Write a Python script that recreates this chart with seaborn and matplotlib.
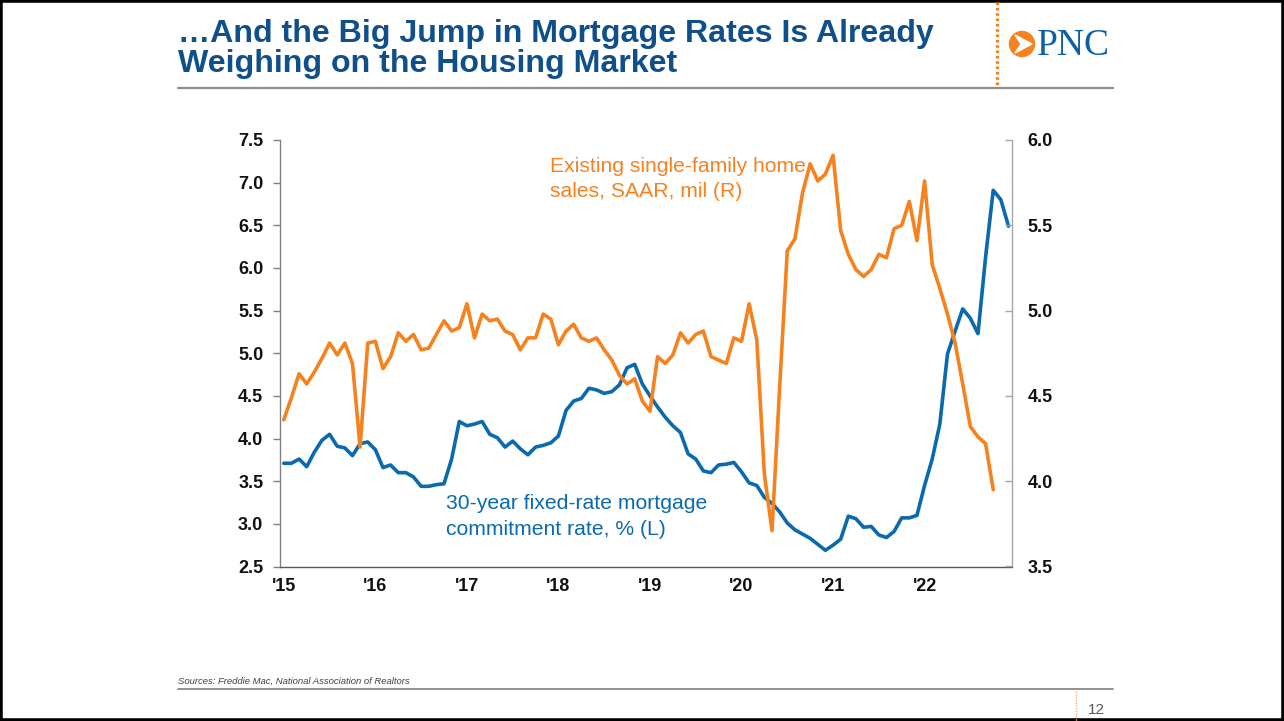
import numpy as np
import pandas as pd
import seaborn as sns
import matplotlib.pyplot as plt
from matplotlib.lines import Line2D
from matplotlib.patches import Circle, Polygon, Rectangle
from matplotlib.transforms import IdentityTransform

# 30-year fixed-rate mortgage commitment rate, %, monthly Jan 2015 - Dec 2022
mortgage_rate = [
    3.71, 3.71, 3.76, 3.67, 3.84, 3.98, 4.05, 3.91, 3.89, 3.80, 3.94, 3.96,
    3.87, 3.66, 3.69, 3.60, 3.60, 3.55, 3.44, 3.44, 3.46, 3.47, 3.76, 4.20,
    4.15, 4.17, 4.20, 4.05, 4.01, 3.90, 3.97, 3.88, 3.81, 3.90, 3.92, 3.95,
    4.03, 4.33, 4.44, 4.47, 4.59, 4.57, 4.53, 4.55, 4.63, 4.83, 4.87, 4.64,
    4.50, 4.37, 4.25, 4.15, 4.07, 3.82, 3.76, 3.62, 3.60, 3.69, 3.70, 3.72,
    3.61, 3.48, 3.45, 3.31, 3.24, 3.14, 3.01, 2.93, 2.88, 2.83, 2.76, 2.69,
    2.75, 2.82, 3.09, 3.06, 2.96, 2.97, 2.87, 2.84, 2.91, 3.07, 3.07, 3.10,
    3.45, 3.76, 4.17, 4.99, 5.26, 5.52, 5.41, 5.23, 6.13, 6.91, 6.80, 6.49,
]

# Existing single-family home sales, SAAR, mil, monthly Jan 2015 - Oct 2022
home_sales = [
    4.36, 4.49, 4.63, 4.57, 4.64, 4.72, 4.81, 4.74, 4.81, 4.69, 4.20, 4.81,
    4.82, 4.66, 4.73, 4.87, 4.82, 4.86, 4.77, 4.78, 4.86, 4.94, 4.88, 4.90,
    5.04, 4.84, 4.98, 4.94, 4.95, 4.88, 4.86, 4.77, 4.84, 4.84, 4.98, 4.95,
    4.80, 4.88, 4.92, 4.84, 4.82, 4.84, 4.77, 4.71, 4.62, 4.57, 4.60, 4.47,
    4.41, 4.73, 4.69, 4.74, 4.87, 4.81, 4.86, 4.88, 4.73, 4.71, 4.69, 4.84,
    4.82, 5.04, 4.83, 4.04, 3.71, 4.55, 5.35, 5.42, 5.69, 5.86, 5.76, 5.80,
    5.91, 5.47, 5.33, 5.24, 5.20, 5.24, 5.33, 5.31, 5.48, 5.50, 5.64, 5.41,
    5.76, 5.27, 5.13, 4.98, 4.81, 4.57, 4.32, 4.26, 4.22, 3.95,
]

year_labels = ["'15", "'16", "'17", "'18", "'19", "'20", "'21", "'22"]
start_year = 2015

BLUE = "#0b6aad"
ORANGE = "#f5821f"
TITLE_BLUE = "#0f4f8a"
W, H = 1284, 721


def month_positions(n):
    # centre of each month, in fractional years
    months = pd.date_range(f"{start_year}-01-01", periods=n, freq="MS")
    return months.year + (months.month - 0.5) / 12


def fx(px):
    return px / W


def fy(py):
    return 1 - py / H


def main():
    sns.set_style("white")
    plt.rcParams["font.family"] = ["Liberation Sans", "DejaVu Sans"]

    fig = plt.figure(figsize=(W / 100, H / 100), dpi=100)
    ax = fig.add_axes([fx(280), fy(566.5), fx(1012.3) - fx(280), fy(140) - fy(566.5)])
    ax2 = ax.twinx()

    df_rate = pd.DataFrame({"x": month_positions(len(mortgage_rate)), "y": mortgage_rate})
    df_sales = pd.DataFrame({"x": month_positions(len(home_sales)), "y": home_sales})
    sns.lineplot(data=df_rate, x="x", y="y", ax=ax, color=BLUE, lw=2.6, estimator=None)
    sns.lineplot(data=df_sales, x="x", y="y", ax=ax2, color=ORANGE, lw=2.6, estimator=None)

    ax.set_xlim(start_year, start_year + 8)
    ax.set_ylim(2.5, 7.5)
    ax2.set_ylim(3.5, 6.0)
    ax.set_yticks(np.arange(2.5, 7.51, 0.5))
    ax.set_yticklabels([f"{v:.1f}" for v in np.arange(2.5, 7.51, 0.5)])
    ax2.set_yticks(np.arange(3.5, 6.01, 0.5))
    ax2.set_yticklabels([f"{v:.1f}" for v in np.arange(3.5, 6.01, 0.5)])

    # quarterly tick marks, year labels at January
    ax.set_xticks(np.arange(start_year, start_year + 8.01, 0.25))
    ax.set_xticklabels([])
    ax.set_xticks([start_year + i + 1 / 24 for i in range(len(year_labels))], minor=True)
    ax.set_xticklabels(year_labels, minor=True)
    ax.tick_params(axis="x", which="major", length=4, width=1, color="#595959", direction="out")
    ax.tick_params(axis="x", which="minor", length=0, pad=8.5, labelsize=13)
    ax.tick_params(axis="y", length=5, width=1, color="#808080", direction="out", pad=7, labelsize=13)
    ax2.tick_params(axis="y", length=5, width=1, color="#a6a6a6", direction="in", pad=11, labelsize=13)

    for lab in ax.get_yticklabels() + ax2.get_yticklabels() + ax.get_xticklabels(minor=True):
        lab.set_fontweight("bold")
        lab.set_color("#111111")

    ax.set_xlabel("")
    ax.set_ylabel("")
    ax2.set_ylabel("")
    for a in (ax, ax2):
        a.spines["top"].set_visible(False)
    ax.spines["right"].set_visible(False)
    ax2.spines["left"].set_visible(False)
    ax2.spines["bottom"].set_visible(False)
    ax.spines["left"].set_color("#808080")
    ax.spines["bottom"].set_color("#595959")
    ax2.spines["right"].set_color("#a6a6a6")
    for s in ("left", "bottom"):
        ax.spines[s].set_linewidth(1)
    ax2.spines["right"].set_linewidth(1)

    # series annotations
    fig.text(fx(550), fy(172), "Existing single-family home", color=ORANGE, fontsize=15.2, va="baseline")
    fig.text(fx(550), fy(197), "sales, SAAR, mil (R)", color=ORANGE, fontsize=15.2, va="baseline")
    fig.text(fx(446), fy(509), "30-year fixed-rate mortgage", color=BLUE, fontsize=15.2, va="baseline")
    fig.text(fx(446), fy(535), "commitment rate, % (L)", color=BLUE, fontsize=15.2, va="baseline")

    # slide title
    fig.text(fx(178), fy(42), "\u2026And the Big Jump in Mortgage Rates Is Already",
             color=TITLE_BLUE, fontsize=23.1, fontweight="bold", va="baseline")
    fig.text(fx(178), fy(72), "Weighing on the Housing Market",
             color=TITLE_BLUE, fontsize=23.1, fontweight="bold", va="baseline")
    fig.add_artist(Line2D([fx(178), fx(1113)], [fy(88), fy(88)], transform=fig.transFigure,
                          color="#8c8c8c", lw=1.6))
    fig.add_artist(Line2D([fx(997), fx(997)], [fy(2), fy(86)], transform=fig.transFigure,
                          color=ORANGE, lw=2.4, linestyle=(0, (0.8, 0.8))))

    # PNC logo
    fig.add_artist(Circle((1022, H - 44), 12.5, transform=IdentityTransform(), color=ORANGE))
    fig.add_artist(Polygon([(1015, H - 35), (1032, H - 44), (1015, H - 53), (1021, H - 44)],
                           closed=True, transform=IdentityTransform(), color="white"))
    fig.text(fx(1037), fy(55), "PNC", color="#0d5fa6", fontsize=27,
             family=["Liberation Serif", "DejaVu Serif"], va="baseline")

    # footer
    fig.text(fx(178), fy(684), "Sources: Freddie Mac, National Association of Realtors",
             fontsize=6.8, style="italic", color="#404040", va="baseline")
    fig.add_artist(Line2D([fx(178), fx(1113)], [fy(689), fy(689)], transform=fig.transFigure,
                          color="#7f7f7f", lw=1.2))
    fig.add_artist(Line2D([fx(1076), fx(1076)], [fy(691), fy(721)], transform=fig.transFigure,
                          color="#f7b27a", lw=1, linestyle=(0, (1, 1))))
    fig.text(fx(1088), fy(714), "12", fontsize=11, color="#595959", va="baseline")

    # slide frame
    fig.add_artist(Rectangle((0, 0), 1, 1, transform=fig.transFigure, fill=False,
                             edgecolor="black", lw=4))

    fig.savefig("out.png", dpi=100)


if __name__ == "__main__":
    main()
